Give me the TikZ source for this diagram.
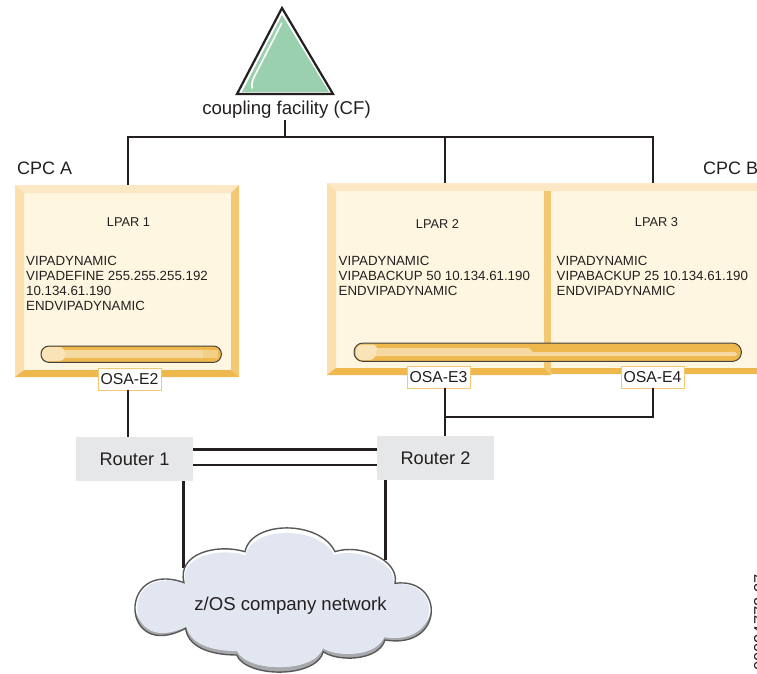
\documentclass[tikz,border=0pt]{standalone}
\usepackage{fontspec}
\setmainfont{Liberation Sans}
\definecolor{ink}{HTML}{231F20}
\definecolor{face}{HTML}{FEF6E0}
\definecolor{bevL}{HTML}{FBE0AE}
\definecolor{bevT}{HTML}{FCE8C4}
\definecolor{bevR}{HTML}{F3C873}
\definecolor{bevB}{HTML}{EFB84C}
\definecolor{rodlight}{HTML}{F6D9A0}
\definecolor{rodcap}{HTML}{FBE3B8}
\definecolor{routerfill}{HTML}{E6E7E8}
\definecolor{cloudfill}{HTML}{E1E6F1}
\definecolor{cloudshadow}{HTML}{A7A9AC}
\definecolor{cfgreen}{HTML}{9BD0AE}
\tikzset{
  wire/.style={draw=ink,line width=2.4pt},
  big/.style={font=\fontsize{18.6}{21}\selectfont,text=ink,inner sep=0pt},
  cpclabel/.style={font=\fontsize{18}{21}\selectfont,text=ink,inner sep=0pt,anchor=west},
  code/.style={font=\fontsize{13.3}{15}\selectfont,text=ink,inner sep=0pt,align=left,anchor=north west},
  lparname/.style={font=\fontsize{12.8}{15}\selectfont,text=ink,inner sep=0pt},
  osabox/.style={draw=bevR,fill=white,line width=0.9pt,minimum width=63pt,minimum height=22pt,inner sep=0pt,font=\fontsize{15.8}{18}\selectfont,text=ink},
  routerbox/.style={fill=routerfill,minimum width=117pt,minimum height=44pt,inner sep=0pt,font=\fontsize{18.2}{20}\selectfont,text=ink,text depth=-2pt},
  regionbox/.style={inner sep=0pt,anchor=north west,fill=face},
  rodline/.style={draw=ink!85,line width=1pt},
}
\newcommand{\cloudpath}{(192,488) .. controls (170,400) and (290,370) .. (375,395)
 .. controls (395,300) and (600,300) .. (645,395)
 .. controls (720,370) and (840,420) .. (825,490)
 .. controls (975,470) and (975,690) .. (795,660)
 .. controls (775,725) and (650,725) .. (610,695)
 .. controls (590,775) and (380,775) .. (350,705)
 .. controls (290,705) and (205,690) .. (197,625)
 .. controls (0,730) and (-10,415) .. (192,488) -- cycle}
\begin{document}
\begin{tikzpicture}[x=1pt,y=-1pt]
\clip (0,0) rectangle (757,673);
% coupling facility
\coordinate (cfA) at (282,8);
\coordinate (cfL) at (237,94);
\coordinate (cfR) at (333,94);
\fill[white] (cfA) -- (cfL) -- (cfR) -- cycle;
\fill[cfgreen] (282,15) -- (242,92) -- (329,92) -- cycle;
\draw[white,line width=1.6pt,line cap=round] (281.7,23) -- (256.7,72) .. controls (252,81) and (251,84) .. (252.3,88);
\draw[ink,line width=2.2pt,line join=miter] (cfA) -- (cfL) -- (cfR) -- cycle;
\node[big] (cflabel) at (286.5,109.5) {coupling facility (CF)};
\coordinate (stub) at (285,137);
\draw[wire] (285,120) -- (stub);
% CPC boxes
\node[regionbox,minimum width=224pt,minimum height=192pt] (lpar1) at (15,185) {};
\node[regionbox,minimum width=224pt,minimum height=192pt] (lpar2) at (327,183) {};
\node[regionbox,minimum width=220pt,minimum height=191pt] (lpar3) at (551,183) {};
% bus
\coordinate (busA) at (128,137);
\coordinate (busB) at (445,137);
\coordinate (busC) at (653,137);
\draw[wire] (busA |- lpar1.north) -- (busA) -- (busC) -- (busC |- lpar3.north);
\draw[wire] (busB) -- (busB |- lpar2.north);
% bevels LPAR 1
\fill[bevT] (15,185) -- (239,185) -- (231,193) -- (24,193) -- cycle;
\fill[bevL] (15,185) -- (24,193) -- (24,370) -- (15,377) -- cycle;
\fill[bevR] (239,185) -- (239,377) -- (231,370) -- (231,193) -- cycle;
\fill[bevB] (15,377) -- (24,370) -- (231,370) -- (239,377) -- cycle;
% bevels LPAR 2 and 3
\fill[bevT] (327,183) -- (757,183) -- (757,191) -- (336,191) -- cycle;
\fill[bevL] (327,183) -- (336,191) -- (336,368) -- (327,375) -- cycle;
\fill[bevR] (544,191) rectangle (551,375);
\fill[bevB] (327,375) -- (336,368) -- (544,368) -- (551,375) -- cycle;
\fill[bevB] (551,368) rectangle (757,374);
% rods
\node[inner sep=0pt,minimum width=180pt,minimum height=16pt,anchor=north west] (rod1) at (41,346) {};
\node[inner sep=0pt,minimum width=387pt,minimum height=18pt,anchor=north west] (rod2) at (354,343) {};
\fill[bevB,rounded corners=8pt] (rod1.north west) rectangle (rod1.south east);
\fill[rodlight] (62,350) rectangle (203,358);
\fill[rodlight!70!bevB] (203,350) rectangle (218,358);
\fill[rodcap,rounded corners=6pt] (42,347) rectangle (65,361);
\draw[rodline,rounded corners=8pt] (rod1.north west) rectangle (rod1.south east);
\fill[bevB,rounded corners=9pt] (rod2.north west) rectangle (rod2.south east);
\fill[rodlight] (375,348) -- (529,348) -- (533,352) -- (735,352) -- (738,354) -- (735,356) -- (375,356) -- cycle;
\fill[rodcap,rounded corners=6pt] (356,344.5) -- (378,344.5) -- (375,360) -- (356,360) -- cycle;
\draw[rodline,rounded corners=9pt] (rod2.north west) rectangle (rod2.south east);
% texts
\node[cpclabel] (cpca) at (17,168.5) {CPC A};
\node[cpclabel] (cpcb) at (703,168.5) {CPC B};
\node[lparname] (l1) at (128.5,222.5) {LPAR 1};
\node[lparname] (l2) at (437.5,224.5) {LPAR 2};
\node[lparname] (l3) at (656.5,222.5) {LPAR 3};
\node[code] (c1) at (26,256.5) {VIPADYNAMIC\\VIPADEFINE 255.255.255.192\\10.134.61.190\\ENDVIPADYNAMIC};
\node[code] (c2) at (338.5,256.5) {VIPADYNAMIC\\VIPABACKUP 50 10.134.61.190\\ENDVIPADYNAMIC};
\node[code] (c3) at (556.5,256.5) {VIPADYNAMIC\\VIPABACKUP 25 10.134.61.190\\ENDVIPADYNAMIC};
% routers and cloud
\node[routerbox] (r1) at (134.5,459) {Router 1};
\node[routerbox] (r2) at (435.5,458) {Router 2};
% connectors
\node[osabox] (e2) at (129.5,379) {OSA-E2};
\node[osabox] (e3) at (438.5,377) {OSA-E3};
\node[osabox] (e4) at (652.5,377) {OSA-E4};
\coordinate (w2) at (128,437);
\coordinate (w3) at (445,436);
\coordinate (w4) at (653,417);
\coordinate (w5) at (445,417);
\draw[wire] (w2 |- e2.south) -- (w2);
\draw[wire] (w3 |- e3.south) -- (w3);
\draw[wire] (w4 |- e4.south) -- (w4) -- (w5);
\coordinate (n1) at (183.5,568);
\coordinate (n2) at (385.5,560);
\draw[wire] (n1 |- r1.south) -- (n1);
\draw[wire] (n2 |- r2.south) -- (n2);
\coordinate (t1) at (r1.east |- 0,449.5);
\coordinate (t2) at (r1.east |- 0,465);
\draw[wire] (t1) -- (t1 -| r2.west);
\draw[wire] (t2) -- (t2 -| r2.west);
% cloud shape
\begin{scope}[shift={(120,420)},x=0.3333pt,y=-0.3333pt]
  \fill[cloudshadow] \cloudpath;
  \begin{scope}
    \clip \cloudpath;
    \fill[white,yshift=5pt] \cloudpath;
    \fill[cloudfill,shift={(490,540)},xscale=.985,yscale=.93,shift={(-490,-540)}] \cloudpath;
  \end{scope}
  \draw[ink!75,line width=1.4pt] \cloudpath;
\end{scope}
\node[big] (cloudlabel) at (290.5,605.5) {z/OS company network};
\node[rotate=90,anchor=north west,inner sep=0pt,font=\fontsize{16.5}{18}\selectfont,text=ink] (tag) at (754,671) {00024772 27};
\end{tikzpicture}
\end{document}
